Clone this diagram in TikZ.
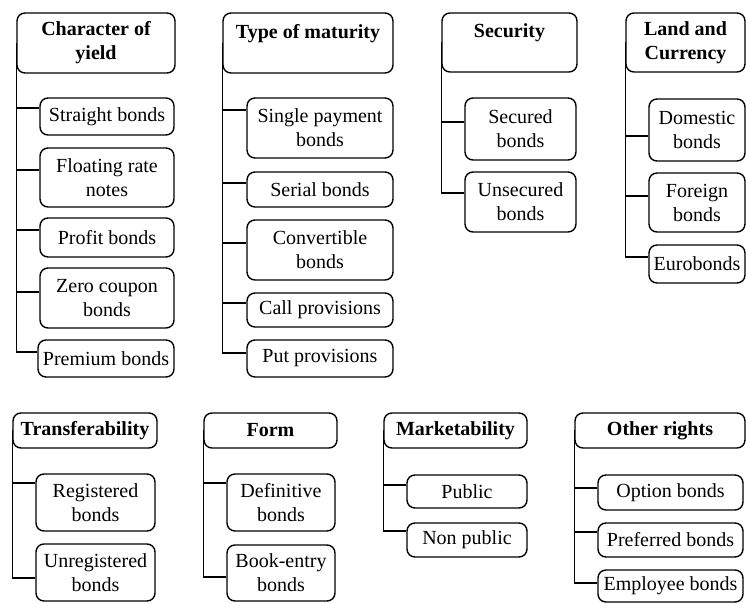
\documentclass[tikz,border=0pt]{standalone}
\usepackage{fontspec}
\setmainfont{Liberation Serif}
\tikzset{hdr/.style = {draw, rounded corners = 4pt, font = \bfseries, align = center, inner sep = 0}}
\tikzset{leaf/.style = {draw, rounded corners = 4pt, align = center, inner sep = 0}}
\tikzset{sz/.style 2 args = {minimum width = #1*0.5pt, minimum height = #2*0.5pt}}

\begin{document}
\begin{tikzpicture}[x = 0.5pt, y = -0.5pt, line width = 0.7pt]
      \useasboundingbox (0, 0) rectangle (746, 604);

      % top row
      \node [hdr, sz={158}{60}] (cy) at (96, 43) {Character of\\yield};
      \node [leaf, sz={134}{37}] (sb) at (107, 116.5) {Straight bonds};
      \node [leaf, sz={134}{59}] (frn) at (107, 177.5) {Floating rate\\notes};
      \node [leaf, sz={134}{39}] (pb) at (107, 237.5) {Profit bonds};
      \node [leaf, sz={134}{60}] (zcb) at (107, 298) {Zero coupon\\bonds};
      \node [leaf, sz={136}{37}] (prb) at (106, 358.5) {Premium bonds};
      \foreach \c/\d in {sb/4.25, frn/3.75, pb/3.75, zcb/3, prb/3.25}
        \draw (cy.west) |- ([yshift=\d pt]\c.west);

      \node [hdr, sz={170}{60}] (tm) at (308, 43) {Type of maturity\\~};
      \node [leaf, sz={146}{60}] (spb) at (320, 128) {Single payment\\bonds};
      \node [leaf, sz={146}{35}] (serb) at (320, 189.5) {Serial bonds};
      \node [leaf, sz={146}{60}] (cvb) at (320, 250) {Convertible\\bonds};
      \node [leaf, sz={146}{34}] (cp) at (320, 310) {Call provisions};
      \node [leaf, sz={146}{37}] (pp) at (320, 358.5) {Put provisions};
      \foreach \c/\d in {spb/9, serb/3.25, cvb/3.5, cp/3.5, pp/2.75}
        \draw (tm.west) |- ([yshift=\d pt]\c.west);

      \node [hdr, sz={135}{59}] (sec) at (509.5, 42.5) {Security\\~};
      \node [leaf, sz={111}{62}] (secb) at (520.5, 129) {Secured\\bonds};
      \node [leaf, sz={111}{60}] (usb) at (520.5, 202) {Unsecured\\bonds};
      \foreach \c/\d in {secb/3.5, usb/4.5}
        \draw (sec.west) |- ([yshift=\d pt]\c.west);

      \node [hdr, sz={119}{59}] (lc) at (685.5, 42.5) {Land and\\Currency};
      \node [leaf, sz={96}{62}] (dom) at (697, 130) {Domestic\\bonds};
      \node [leaf, sz={96}{59}] (fgn) at (697, 202.5) {Foreign\\bonds};
      \node [leaf, sz={96}{38}] (eur) at (697, 264) {Eurobonds};
      \foreach \c/\d in {dom/-3, fgn/3.25, eur/3.5}
        \draw (lc.west) |- ([yshift=\d pt]\c.west);

      % bottom row
      \node [hdr, sz={144}{35}] (tr) at (85, 430.5) {Transferability};
      \node [leaf, sz={119}{57}] (reg) at (95.5, 502.5) {Registered\\bonds};
      \node [leaf, sz={119}{57}] (ureg) at (95.5, 572.5) {Unregistered\\bonds};
      \foreach \c/\d in {reg/9.75, ureg/-2.75}
        \draw (tr.west) |- ([yshift=\d pt]\c.west);

      \node [hdr, sz={133}{35}] (fm) at (270.5, 430.5) {Form};
      \node [leaf, sz={108}{57}] (dfb) at (281, 502.5) {Definitive\\bonds};
      \node [leaf, sz={108}{56}] (beb) at (281, 573) {Book-entry\\bonds};
      \foreach \c/\d in {dfb/9.75, beb/-2}
        \draw (fm.west) |- ([yshift=\d pt]\c.west);

      \node [hdr, sz={143}{35}] (mk) at (455.5, 430.5) {Marketability};
      \node [leaf, sz={120}{33}] (pub) at (467, 491.5) {Public};
      \node [leaf, sz={120}{34}] (npub) at (467, 540) {Non public};
      \foreach \c/\d in {pub/3.25, npub/4.5}
        \draw (mk.west) |- ([yshift=\d pt]\c.west);

      \node [hdr, sz={170}{35}] (oth) at (660, 430.5) {Other rights};
      \node [leaf, sz={145}{35}] (opt) at (670.5, 492.5) {Option bonds};
      \node [leaf, sz={145}{34}] (pref) at (670.5, 540) {Preferred bonds};
      \node [leaf, sz={145}{32}] (emp) at (670.5, 586) {Employee bonds};
      \foreach \c/\d in {opt/2.25, pref/4, emp/1.5}
        \draw (oth.west) |- ([yshift=\d pt]\c.west);
    \end{tikzpicture}
\end{document}
